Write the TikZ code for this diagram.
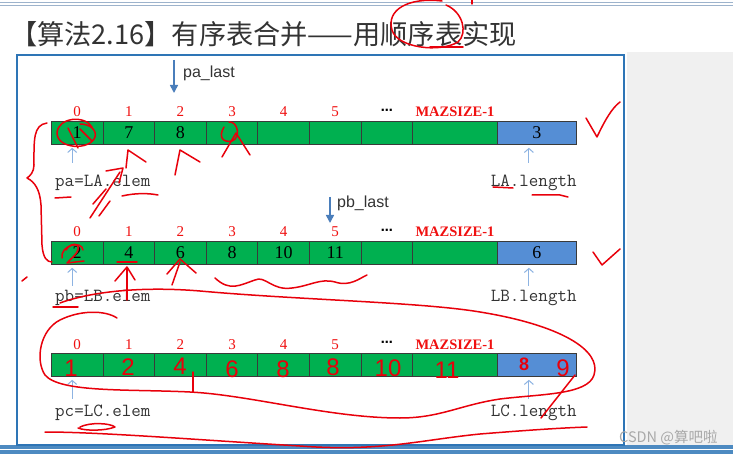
\documentclass[tikz,border=0pt]{standalone}
\usepackage{fontspec}
\setmainfont{Liberation Serif}
\newfontfamily\cjk{Noto Sans CJK SC}
\newfontfamily\lsans{Liberation Sans}
\newfontfamily\dvs{DejaVu Sans}
\usetikzlibrary{arrows.meta,calc}
\definecolor{cellgreen}{HTML}{00B050}
\definecolor{cellblue}{HTML}{558ED5}
\definecolor{cellline}{HTML}{3A3A3A}
\definecolor{idxred}{HTML}{F01010}
\definecolor{ptrblue}{HTML}{4A7EBB}
\definecolor{upblue}{HTML}{8DB3E2}
\definecolor{boxblue}{HTML}{2E75B6}
\definecolor{penred}{HTML}{E8000B}
\definecolor{panelgray}{HTML}{F0F0F0}
\definecolor{titlegray}{HTML}{333333}
\definecolor{rulegray}{HTML}{9DB3CC}
\definecolor{wmgray}{HTML}{A8A8A8}

\newcommand{\arrayrow}[4]{%
  \foreach \i/\v in {#3} {
    \node[gcell, minimum width=51.6pt] (#1\i) at ({51+51.6*\i},#2) {\v};
  }
  \node[gcell, minimum width=84.8pt] (#17) at (412.2,#2) {};
  \node[bcell, minimum width=79pt] (#1L) at (497,#2) {#4};
  \foreach \i in {0,...,5} {
    \node[idx] at ([yshift=4pt]#1\i.north) {\i};
  }
  \node[dotsty] at ([yshift=9pt]#16.north) {⋯};
  \node[idx, font=\bfseries\fontsize{14.5}{14.5}\selectfont] at ([yshift=4pt]#17.north) {MAZSIZE-1};
}

\begin{document}
\begin{tikzpicture}[x=1pt,y=-1pt,
  cell/.style={draw=cellline, line width=0.8pt, minimum height=23pt, inner sep=0pt,
               anchor=north west, font=\fontsize{18}{18}\selectfont, text=black},
  gcell/.style={cell, fill=cellgreen},
  bcell/.style={cell, fill=cellblue},
  idx/.style={text=idxred, font=\fontsize{15}{15}\selectfont, anchor=base, inner sep=0pt},
  dotsty/.style={font=\dvs\bfseries\fontsize{12}{12}\selectfont, inner sep=0pt},
  lab/.style={font=\ttfamily\fontsize{18.5}{18.5}\selectfont, text=titlegray, inner sep=0pt},
  uparr/.style={draw=upblue, line width=1pt, -{Straight Barb[length=4pt,width=9pt]}},
  ptrarr/.style={draw=ptrblue, line width=1.6pt, -{Triangle[length=8pt,width=8pt]}},
  ptrlab/.style={font=\lsans\fontsize{16}{16}\selectfont, text=titlegray, anchor=west, inner sep=0pt},
  pen/.style={draw=penred, line width=1.5pt, line cap=round, line join=round},
  hand/.style={text=penred, font=\lsans\fontsize{24}{24}\selectfont, inner sep=0pt},
]
\useasboundingbox (0,0) rectangle (733,454);
% background
\fill[white] (0,0) rectangle (733,454);
\fill[panelgray] (627,52) rectangle (733,445);
\draw[rulegray, line width=1pt] (0,2.5) -- (733,2.5);
\draw[rulegray, line width=1pt] (0,6) -- (733,6);
\fill[boxblue!85] (0,445) rectangle (733,454);
\draw[white, line width=0.8pt] (0,449.5) -- (733,449.5);
\draw[boxblue, line width=2pt] (17,55.5) rectangle (624,445);

% title
\node[anchor=west, inner sep=0pt, text=titlegray, font=\cjk\fontsize{27.2}{31}\selectfont] (title) at (10,34)
  {【算法2.16】有序表合并——用顺序表实现};

% rows
\arrayrow{A}{121}{0/1,1/7,2/8,3/{},4/{},5/{},6/{}}{3}
\arrayrow{B}{241}{0/2,1/4,2/6,3/8,4/10,5/11,6/{}}{6}
\arrayrow{C}{353}{0/{},1/{},2/{},3/{},4/{},5/{},6/{}}{}

% labels under rows
\node[lab, anchor=west] (paL) at ([xshift=4pt,yshift=-38pt]A0.south west) {pa=LA.elem};
\node[lab, anchor=east] (laL) at ([yshift=-38pt]AL.south east) {LA.length};
\node[lab, anchor=west] (pbL) at ([xshift=4pt,yshift=-33pt]B0.south west) {pb=LB.elem};
\node[lab, anchor=east] (lbL) at ([yshift=-33pt]BL.south east) {LB.length};
\node[lab, anchor=west] (pcL) at ([xshift=4pt,yshift=-36pt]C0.south west) {pc=LC.elem};
\node[lab, anchor=east] (lcL) at ([yshift=-36pt]CL.south east) {LC.length};

% small up arrows
\foreach \r/\b in {A/18,B/21,C/22} {
  \draw[uparr] ([xshift=-5pt,yshift=-\b pt]\r0.south) -- ([xshift=-5pt,yshift=-3pt]\r0.south);
  \draw[uparr] ([xshift=-8pt,yshift=-\b pt]\r L.south) -- ([xshift=-8pt,yshift=-3pt]\r L.south);
}

% last pointers
\coordinate (paTop) at (174,60);
\coordinate (paTip) at (174,93);
\draw[ptrarr] (paTop) -- (paTip);
\node[ptrlab] (palast) at (183,73) {pa\_last};
\coordinate (pbTop) at (330,197);
\coordinate (pbTip) at (330,223);
\draw[ptrarr] (pbTop) -- (pbTip);
\node[ptrlab] (pblast) at (337,203) {pb\_last};

% watermark
\node[anchor=west, inner sep=0pt, text=wmgray, font=\cjk\fontsize{14.5}{16}\selectfont] (wm) at (619,438) {CSDN @算吧啦};

% ---------- red handwritten annotations ----------
% title circle
\draw[pen] (442,1) .. controls (408,-3) and (386,10) .. (392,30) .. controls (397,48) and (440,53) .. (458,42) .. controls (468,33) and (463,12) .. (446,5);
\draw[pen] (430,47) -- (463,47);
\draw[pen] (472,0) -- (472,4);
% row A
\draw[pen] (92,127) .. controls (85,115) and (58,117) .. (57,133) .. controls (57,149) and (90,151) .. (95,137) .. controls (97,130) and (90,124) .. (80,124);
\draw[pen] (68,128) -- (78,148);
\draw[pen] (80,129) -- (92,141);
\draw[pen] (224,127) .. controls (218,137) and (223,143) .. (232,141) .. controls (241,138) and (238,121) .. (229,122);
\draw[pen] (222,157) -- (236,133) -- (250,155);
\draw[pen] (126,168) -- (128,150) -- (146,162);
\draw[pen] (175,175) -- (180,150) -- (200,162);
\draw[pen] (47,123) .. controls (33,125) and (34,140) .. (34,165) .. controls (34,172) and (30,176) .. (27,178) .. controls (35,182) and (40,190) .. (41,205) -- (42,245) .. controls (43,258) and (47,262) .. (52,262);
\draw[pen] (90,218) -- (120,172);
\draw[pen] (106,171) -- (123,168) -- (119,183);
\draw[pen] (93,204) -- (106,189);
\draw[pen] (99,216) -- (110,201);
\draw[pen] (55,198) -- (71,197);
\draw[pen] (122,196) .. controls (135,193) and (148,193) .. (158,195);
\draw[pen] (493,187) -- (513,188);
\draw[pen] (532,195) -- (560,195) -- (568,197);
\draw[pen] (586,118) -- (597,137) .. controls (605,120) and (612,108) .. (620,102);
% row B
\draw[pen] (66,250) .. controls (72,240) and (85,244) .. (74,256) -- (67,263) -- (84,261);
\draw[pen] (62,258) .. controls (60,245) and (82,240) .. (83,250);
\draw[pen] (117,262) -- (137,262);
\draw[pen] (127,300) -- (127,268);
\draw[pen] (115,281) -- (127,267) -- (135,280);
\draw[pen] (172,285) -- (180,262);
\draw[pen] (167,274) -- (180,259) -- (196,273);
\draw[pen] (215,278) .. controls (230,292) and (240,285) .. (255,280) .. controls (265,275) and (272,291) .. (292,288) .. controls (310,286) and (320,278) .. (335,282) .. controls (350,287) and (360,278) .. (367,275);
\draw[pen] (53,307) -- (78,307);
\draw[pen] (593,252) -- (602,265) -- (620,249);
\draw[pen] (22,281) -- (27,277);
% big loop around row C
\draw[pen] (60,303) .. controls (90,292) and (140,286) .. (200,291) .. controls (300,300) and (420,302) .. (480,312) .. controls (560,325) and (602,350) .. (594,375) .. controls (588,395) and (540,394) .. (500,399) .. controls (460,405) and (440,418) .. (400,418) .. controls (330,418) and (250,395) .. (190,392) .. controls (130,389) and (60,393) .. (45,375) .. controls (35,360) and (40,330) .. (60,320) .. controls (80,310) and (105,310) .. (117,318);
\draw[pen] (193,372) -- (193,392);
\draw[pen] (45,432) .. controls (100,432) and (200,440) .. (300,446) .. controls (380,452) and (420,440) .. (480,434) .. controls (530,430) and (560,428) .. (587,427);
\draw[pen] (80,427) .. controls (90,422) and (110,423) .. (115,427) .. controls (105,431) and (85,431) .. (78,428);
\draw[pen] (575,375) -- (541,418);
% handwritten numbers in row C
\node[hand] at (71,368) {1};
\node[hand] at (128,367) {2};
\node[hand] at (180,366) {4};
\node[hand] at (232,369) {6};
\node[hand] at (283,369) {8};
\node[hand] at (333,367) {8};
\node[hand] at (388,368) {10};
\node[hand] at (447,370) {11};
\node[hand, font=\lsans\bfseries\fontsize{18}{18}\selectfont] at (524,364) {8};
\node[hand] at (563,368) {9};
\end{tikzpicture}
\end{document}
